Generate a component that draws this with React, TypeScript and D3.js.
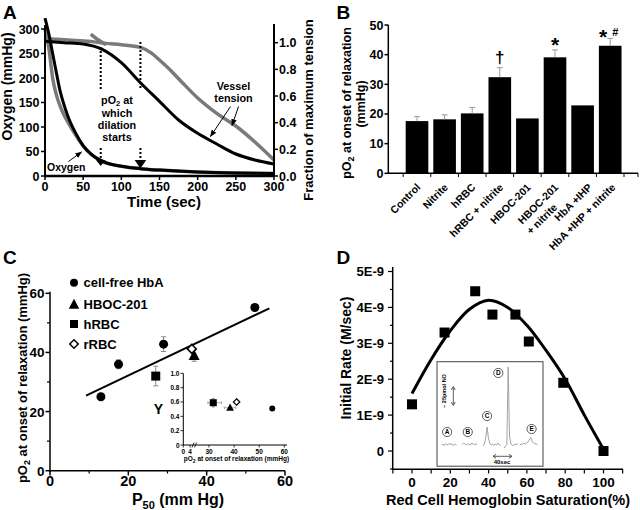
import React from 'react';
import * as d3 from 'd3';

const FONT = "'Liberation Sans', Arial, Helvetica, sans-serif";

// ---------- Panel A data ----------
const aTime = [0, 5, 10, 15, 20, 25, 30, 40, 50, 60, 70, 80, 100, 125, 150, 200, 250, 300];
const aOxyBlack = [322, 290, 250, 210, 172, 145, 122, 88, 62, 45, 34, 27, 20, 15, 12, 8, 6, 5];
const aOxyGray = [300, 262, 200, 165, 142, 124, 110, 84, 61, 45, 34, 27, 20, 15, 12, 8, 6, 5];
const aTensTime = [0, 25, 50, 75, 100, 125, 150, 175, 200, 225, 250, 275, 300];
const aTensBlack = [1.01, 1.0, 0.99, 0.95, 0.85, 0.7, 0.56, 0.42, 0.32, 0.24, 0.165, 0.12, 0.09];
const aTensGrayTime = [0, 30, 60, 80, 100, 125, 140, 150, 165, 180, 200, 225, 250, 275, 300];
const aTensGray = [1.03, 1.02, 1.01, 0.995, 0.985, 0.965, 0.92, 0.87, 0.79, 0.7, 0.585, 0.47, 0.375, 0.255, 0.12];
const aTensGray2Time = [60, 70, 80];
const aTensGray2 = [1.065, 1.02, 0.985];
const aDilationTimes = [73, 125];
const aLeftTicks = [0, 50, 100, 150, 200, 250, 300];
const aRightTicks = [0, 0.2, 0.4, 0.6, 0.8, 1.0];
const aXTicks = [0, 50, 100, 150, 200, 250, 300];

// ---------- Panel B data ----------
const bCategories = ['Control', 'Nitrite', 'hRBC', 'hRBC + nitrite', 'HBOC-201', 'HBOC-201 + nitrite', 'HbA +IHP', 'HbA +IHP + nitrite'];
const bLabelLines = [['Control'], ['Nitrite'], ['hRBC'], ['hRBC + nitrite'], ['HBOC-201'], ['HBOC-201', '+ nitrite'], ['HbA +IHP'], ['HbA +IHP + nitrite']];
const bValues = [17.6, 18.2, 20.2, 32.4, 18.5, 39.1, 22.9, 43.0];
const bErrors = [1.5, 1.5, 2.0, 3.2, 0, 2.5, 0, 2.5];
const bYTicks = [0, 10, 20, 30, 40, 50];

// ---------- Panel C data ----------
const cHbAX = [13, 17.5, 29, 52.3];
const cHbAY = [25, 36, 42.8, 55.2];
const cHbAErr = [0, 1.5, 2.5, 0];
const cHBOCX = [36.8];
const cHBOCY = [39];
const cHBOCErr = [2];
const cHRBCX = [27];
const cHRBCY = [32];
const cHRBCErr = [3.3];
const cRRBCX = [36.2];
const cRRBCY = [41.2];
const cFitX = [9.2, 56];
const cFitY = [25.4, 54.9];
const cTicks = [0, 20, 40, 60];
const cMinor = [10, 30, 50];
const cLegend = ['cell-free HbA', 'HBOC-201', 'hRBC', 'rRBC'];
// inset
const ciX = [31.7, 38.4, 41.0, 55.2];
const ciY = [0.59, 0.52, 0.6, 0.51];
const ciXErr = [3.3, 2.3, 0, 0];
const ciYErr = [0.06, 0, 0, 0];
const ciShapes = ['square', 'triangle', 'diamond', 'circle'];
const ciYTicks = [0, 0.2, 0.4, 0.6, 0.8, 1.0];
const ciXTicks = [0, 4, 30, 40, 50, 60];

// ---------- Panel D data ----------
const dSat = [0, 17, 33, 42, 54, 61, 79, 100];
const dRate = [1.3, 3.3, 4.45, 3.8, 3.8, 3.05, 1.9, 0];
const dFitX = [0, 10, 20, 30, 40, 50, 60, 70, 80, 90, 100];
const dFitY = [1.6, 2.55, 3.35, 3.95, 4.2, 4.0, 3.5, 2.8, 2.0, 1.0, 0.05];
const dYTicks = [0, 1, 2, 3, 4, 5];
const dYLabels = ['0', '1E-9', '2E-9', '3E-9', '4E-9', '5E-9'];
const dXTicks = [0, 20, 40, 60, 80, 100];
// inset traces (signal units), time in seconds
const dTraceA = [1, 2, 0.5, 2.5, 1, 1.5, 3, 1, 2, 0.5, 2, 1];
const dTraceB = [1.5, 3, 2, 1, 2.5, 1.5, 1, 3, 2, 1, 2.5, 1];
const dTraceC = [0, 2, 8, 19, 8, 3, 1, 2, 0.5, 2, 1, 3, 1, 0.5];
const dTraceD = [-2, 0, 1, 79, 10, 2, 1, 0.5, 2, 1, 3];
const dTraceE = [1, 2, 1.5, 3, 2, 3, 4, 6, 8.5, 5, 3, 2, 2.5, 1];
const dTraceStarts = [0, 46, 92, 139, 174];
const dTraceStep = 3;
const dPeakLabels = ['A', 'B', 'C', 'D', 'E'];
const dPeakLabelT = [12, 58, 101, 126, 200];
const dPeakLabelS = [14, 14, 30, 73, 17];

export default function App() {
  // ---------- scales A ----------
  const ax = d3.scaleLinear().domain([0, 300]).range([45, 274]);
  const ayL = d3.scaleLinear().domain([0, 300]).range([176, 29]);
  const ayR = d3.scaleLinear().domain([0, 1]).range([176, 42.7]);
  const mkLine = (xs: number[], ys: number[], sx: any, sy: any, curve: any = d3.curveMonotoneX) =>
    d3.line<number>().x((_, i) => sx(xs[i])).y((d) => sy(d)).curve(curve)(ys) || '';

  // ---------- scales B ----------
  const bx = d3.scaleBand<string>().domain(bCategories).range([403.2, 624]).paddingInner(0.18).paddingOuter(0.09);
  const by = d3.scaleLinear().domain([0, 50]).range([173.3, 25]);
  const bBoundaries = d3.range(bCategories.length + 1).map((i) => 403.2 + i * bx.step());

  // ---------- scales C ----------
  const cx = d3.scaleLinear().domain([0, 60]).range([50, 285]);
  const cy = d3.scaleLinear().domain([0, 60]).range([470.7, 293.3]);
  const cix = d3.scaleLinear().domain([0, 4, 30, 60]).range([183.3, 190, 209, 284.3]);
  const ciy = d3.scaleLinear().domain([0, 1]).range([445, 373.3]);

  // ---------- scales D ----------
  const dx = d3.scaleLinear().domain([0, 100]).range([412, 603.5]);
  const dy = d3.scaleLinear().domain([0, 5]).range([451, 271.5]);
  const dtx = d3.scaleLinear().domain([0, 215]).range([441.7, 538.3]);
  const dty = d3.scaleLinear().domain([0, 80]).range([446, 366]);
  const traces = [dTraceA, dTraceB, dTraceC, dTraceD, dTraceE];

  const bold = { fontFamily: FONT, fontWeight: 700 } as const;

  const triangle = (x: number, y: number, s: number) =>
    `M${x},${y - s * 0.6}L${x + s * 0.55},${y + s * 0.45}L${x - s * 0.55},${y + s * 0.45}Z`;
  const diamond = (x: number, y: number, s: number) =>
    `M${x},${y - s / 2}L${x + s / 2},${y}L${x},${y + s / 2}L${x - s / 2},${y}Z`;

  const errV = (x: number, y1: number, y2: number, w: number, key: string, col = '#888') => (
    <g key={key} stroke={col} strokeWidth={1}>
      <line x1={x} x2={x} y1={y1} y2={y2} />
      <line x1={x - w} x2={x + w} y1={y1} y2={y1} />
      <line x1={x - w} x2={x + w} y1={y2} y2={y2} />
    </g>
  );

  const bc = (i: number) => (bx(bCategories[i]) as number) + bx.bandwidth() / 2;

  return (
    <svg width={640} height={510} style={{ position: 'absolute', left: 0, top: 0, background: '#fff' }}>
      <defs>
        <marker id="ah" viewBox="0 0 10 10" refX="9" refY="5" markerWidth="7" markerHeight="7" orient="auto">
          <path d="M0,1L10,5L0,9Z" fill="#000" />
        </marker>
      </defs>
      <rect width={640} height={510} fill="#fff" />

      {/* ================= PANEL A ================= */}
      <text x={3} y={18.5} fontSize={19} {...bold}>A</text>
      <path d={mkLine(aTensGrayTime, aTensGray, ax, ayR)} fill="none" stroke="#7a7a7a" strokeWidth={3.5} />
      <path d={mkLine(aTensGray2Time, aTensGray2, ax, ayR)} fill="none" stroke="#7a7a7a" strokeWidth={3.5} />
      <path d={mkLine(aTime, aOxyGray, ax, ayL)} fill="none" stroke="#7a7a7a" strokeWidth={3.5} />
      <path d={mkLine(aTensTime, aTensBlack, ax, ayR)} fill="none" stroke="#000" strokeWidth={3} />
      <path d={mkLine(aTime, aOxyBlack, ax, ayL)} fill="none" stroke="#000" strokeWidth={3} />
      <line x1={45} x2={45} y1={176} y2={25} stroke="#000" strokeWidth={2} />
      <line x1={274} x2={274} y1={177} y2={24} stroke="#000" strokeWidth={2} />
      <line x1={44} x2={275} y1={176} y2={176} stroke="#000" strokeWidth={2.5} />
      {aLeftTicks.map((v) => (
        <g key={'al' + v}>
          <line x1={41} x2={45} y1={ayL(v)} y2={ayL(v)} stroke="#000" strokeWidth={1.5} />
          <text x={39.5} y={ayL(v) + 4.5} fontSize={12.5} textAnchor="end" {...bold}>{v}</text>
        </g>
      ))}
      {aRightTicks.map((v) => (
        <g key={'ar' + v}>
          <line x1={274} x2={278} y1={ayR(v)} y2={ayR(v)} stroke="#000" strokeWidth={1.5} />
          <text x={279} y={ayR(v) + 4.5} fontSize={12.5} {...bold}>{v.toFixed(1)}</text>
        </g>
      ))}
      {aXTicks.map((v) => (
        <g key={'ax' + v}>
          <line x1={ax(v)} x2={ax(v)} y1={176} y2={180} stroke="#000" strokeWidth={1.5} />
          <text x={ax(v)} y={190.5} fontSize={12.5} textAnchor="middle" {...bold}>{v}</text>
        </g>
      ))}
      <text x={164} y={207} fontSize={15} textAnchor="middle" {...bold}>Time (sec)</text>
      <text transform="translate(11.5,86.5) rotate(-90)" fontSize={14} textAnchor="middle" {...bold}>Oxygen (mmHg)</text>
      <text transform="translate(313,110) rotate(-90)" fontSize={13} textAnchor="middle" {...bold}>Fraction of maximum tension</text>
      {aDilationTimes.map((t, i) => (
        <g key={'dil' + t}>
          <line x1={ax(t)} x2={ax(t)} y1={i === 0 ? 47 : 42} y2={90} stroke="#000" strokeWidth={2} strokeDasharray="2,2" />
          <line x1={ax(t)} x2={ax(t)} y1={148} y2={160} stroke="#000" strokeWidth={2} strokeDasharray="2,2" />
          <path d={`M${ax(t) - (i === 0 ? 4.7 : 5.8)},160L${ax(t) + (i === 0 ? 4.7 : 5.8)},160L${ax(t)},${i === 0 ? 166 : 168.5}Z`} fill="#000" />
        </g>
      ))}
      <g fontSize={10.8} textAnchor="middle" {...bold}>
        <text x={117} y={103.5}>pO<tspan dy={2.5} fontSize={7.5}>2</tspan><tspan dy={-2.5}> at</tspan></text>
        <text x={117} y={116.5}>which</text>
        <text x={117} y={129}>dilation</text>
        <text x={117} y={140.5}>starts</text>
        <text x={233.5} y={89.5}>Vessel</text>
        <text x={233.5} y={102}>tension</text>
      </g>
      <text x={47} y={170.5} fontSize={10.5} {...bold}>Oxygen</text>
      <line x1={68.5} y1={161.5} x2={81.5} y2={152} stroke="#000" strokeWidth={1} markerEnd="url(#ah)" />
      <line x1={230.5} y1={106.5} x2={210.5} y2={136.5} stroke="#000" strokeWidth={1} markerEnd="url(#ah)" />
      <line x1={238.5} y1={106.5} x2={232} y2={125.5} stroke="#000" strokeWidth={1} markerEnd="url(#ah)" />

      {/* ================= PANEL B ================= */}
      <text x={336.5} y={18.5} fontSize={19} {...bold}>B</text>
      {bCategories.map((c, i) => (
        <rect key={'bar' + c} x={bx(c)} y={by(bValues[i])} width={bx.bandwidth()} height={by(0) - by(bValues[i])} fill="#000" />
      ))}
      {bCategories.map((c, i) =>
        bErrors[i] > 0
          ? (
            <g key={'be' + c} stroke="#999" strokeWidth={1}>
              <line x1={bc(i)} x2={bc(i)} y1={by(bValues[i])} y2={by(bValues[i] + bErrors[i])} />
              <line x1={bc(i) - 3} x2={bc(i) + 3} y1={by(bValues[i] + bErrors[i])} y2={by(bValues[i] + bErrors[i])} />
            </g>
          )
          : null
      )}
      <line x1={388.3} x2={388.3} y1={174} y2={25} stroke="#000" strokeWidth={1.5} />
      <line x1={388.3} x2={638} y1={173.3} y2={173.3} stroke="#000" strokeWidth={1.5} />
      {bBoundaries.map((x, i) => (
        <line key={'bt' + i} x1={x} x2={x} y1={173.3} y2={177} stroke="#000" strokeWidth={1} />
      ))}
      <line x1={638} x2={638} y1={173.3} y2={177} stroke="#000" strokeWidth={1} />
      {bYTicks.map((v) => (
        <g key={'by' + v}>
          <line x1={384.5} x2={388.3} y1={by(v)} y2={by(v)} stroke="#000" strokeWidth={1.5} />
          <text x={383.5} y={by(v) + 4.5} fontSize={12.5} textAnchor="end" {...bold}>{v}</text>
        </g>
      ))}
      {bLabelLines.map((lines, i) =>
        lines.map((ln, j) => {
          const off = i === 6 ? 10 : i === 7 ? 6 : 4;
          return (
            <text key={'bl' + i + j} transform={`translate(${bc(i) + off - j},${188 + j * 20}) rotate(-45)`} fontSize={10.5} textAnchor="end" {...bold}>
              {ln}
            </text>
          );
        })
      )}
      <g textAnchor="middle" {...bold}>
        <text x={bc(3)} y={63} fontSize={17}>†</text>
        <text x={bc(5)} y={52} fontSize={21}>*</text>
        <text x={bc(7) - 7} y={44} fontSize={21}>*</text>
        <text x={bc(7) + 5} y={36} fontSize={11}>#</text>
      </g>
      <g {...bold} fontSize={12.5} textAnchor="middle">
        <text transform="translate(351,103) rotate(-90)">pO<tspan dy={3} fontSize={9}>2</tspan><tspan dy={-3}> at onset of relaxation</tspan></text>
        <text transform="translate(364.5,104) rotate(-90)">(mmHg)</text>
      </g>

      {/* ================= PANEL C ================= */}
      <text x={3} y={263.5} fontSize={19} {...bold}>C</text>
      <line x1={50} x2={50} y1={471.5} y2={291.7} stroke="#000" strokeWidth={1.5} />
      <line x1={49} x2={285} y1={470.7} y2={470.7} stroke="#000" strokeWidth={1.5} />
      {cTicks.map((v) => (
        <g key={'ct' + v}>
          <line x1={45.5} x2={50} y1={cy(v)} y2={cy(v)} stroke="#000" strokeWidth={1.5} />
          <text x={44.5} y={cy(v) + 5} fontSize={13.5} textAnchor="end" {...bold}>{v}</text>
          <line x1={cx(v)} x2={cx(v)} y1={470.7} y2={475.5} stroke="#000" strokeWidth={1.5} />
          <text x={cx(v)} y={486} fontSize={14.5} textAnchor="middle" {...bold}>{v}</text>
        </g>
      ))}
      {cMinor.map((v) => (
        <g key={'cm' + v}>
          <line x1={47} x2={50} y1={cy(v)} y2={cy(v)} stroke="#000" strokeWidth={1.2} />
          <line x1={cx(v)} x2={cx(v)} y1={470.7} y2={473.5} stroke="#000" strokeWidth={1.2} />
        </g>
      ))}
      <text x={178} y={505} fontSize={16} textAnchor="middle" {...bold}>
        P<tspan dy={3.5} fontSize={11}>50</tspan><tspan dy={-3.5}> (mm Hg)</tspan>
      </text>
      <text transform="translate(26.5,378) rotate(-90)" fontSize={13} textAnchor="middle" {...bold}>
        pO<tspan dy={3} fontSize={9}>2</tspan><tspan dy={-3}> at onset of relaxation (mmHg)</tspan>
      </text>
      <path d={mkLine(cFitX, cFitY, cx, cy, d3.curveLinear)} stroke="#000" strokeWidth={2} fill="none" />
      {cHbAX.map((x, i) => (cHbAErr[i] > 0 ? errV(cx(x), cy(cHbAY[i] - cHbAErr[i]), cy(cHbAY[i] + cHbAErr[i]), 2.5, 'ce' + i) : null))}
      {cHBOCX.map((x, i) => errV(cx(x), cy(cHBOCY[i] - cHBOCErr[i]), cy(cHBOCY[i] + cHBOCErr[i]), 2.5, 'cbe' + i))}
      {cHRBCX.map((x, i) => errV(cx(x), cy(cHRBCY[i] - cHRBCErr[i]), cy(cHRBCY[i] + cHRBCErr[i]), 2.5, 'cre' + i))}
      {cHbAX.map((x, i) => <circle key={'cp' + i} cx={cx(x)} cy={cy(cHbAY[i])} r={4.5} fill="#000" />)}
      {cHBOCX.map((x, i) => <path key={'ctp' + i} d={triangle(cx(x), cy(cHBOCY[i]), 10)} fill="#000" />)}
      {cHRBCX.map((x, i) => <rect key={'csp' + i} x={cx(x) - 4.5} y={cy(cHRBCY[i]) - 4.5} width={9} height={9} fill="#000" />)}
      {cRRBCX.map((x, i) => <path key={'cdp' + i} d={diamond(cx(x), cy(cRRBCY[i]), 9)} fill="#fff" stroke="#000" strokeWidth={1.5} />)}
      <circle cx={74} cy={282.7} r={4} fill="#000" />
      <path d={triangle(74, 304.5, 9.5)} fill="#000" />
      <rect x={70} y={320} width={8} height={8} fill="#000" />
      <path d={diamond(74, 344, 8.5)} fill="#fff" stroke="#000" strokeWidth={1.5} />
      {cLegend.map((t, i) => (
        <text key={'lg' + t} x={83.5} y={[287.3, 309, 328.7, 348.7][i]} fontSize={13} {...bold}>{t}</text>
      ))}
      <line x1={183.3} x2={183.3} y1={445} y2={373.3} stroke="#000" strokeWidth={1} />
      <line x1={183.3} x2={287} y1={445} y2={445} stroke="#000" strokeWidth={1} />
      {ciYTicks.map((v) => (
        <g key={'ciy' + v}>
          <line x1={180.5} x2={183.3} y1={ciy(v)} y2={ciy(v)} stroke="#000" strokeWidth={0.8} />
          <text x={179.5} y={ciy(v) + 2.5} fontSize={6.5} textAnchor="end" {...bold}>{v === 0 ? '0' : v.toFixed(1)}</text>
        </g>
      ))}
      {ciXTicks.map((v) => (
        <g key={'cix' + v}>
          <line x1={cix(v)} x2={cix(v)} y1={445} y2={447.5} stroke="#000" strokeWidth={0.8} />
          <text x={cix(v)} y={454} fontSize={6.5} textAnchor="middle" {...bold}>{v}</text>
        </g>
      ))}
      <path d="M192,447.5L194,442.5M194.5,447.5L196.5,442.5" stroke="#000" strokeWidth={0.8} />
      <text x={236.5} y={461} fontSize={6.5} textAnchor="middle" {...bold}>
        pO<tspan dy={1.5} fontSize={5}>2</tspan><tspan dy={-1.5}> at onset of relaxation (mmHg)</tspan>
      </text>
      <text x={158.3} y={413.5} fontSize={14} textAnchor="middle" {...bold}>Y</text>
      {ciX.map((x, i) => (
        <g key={'cip' + i}>
          {ciXErr[i] > 0 ? (
            <g stroke="#999" strokeWidth={0.8}>
              <line x1={cix(x - ciXErr[i])} x2={cix(x + ciXErr[i])} y1={ciy(ciY[i])} y2={ciy(ciY[i])} />
              <line x1={cix(x - ciXErr[i])} x2={cix(x - ciXErr[i])} y1={ciy(ciY[i]) - 1.5} y2={ciy(ciY[i]) + 1.5} />
              <line x1={cix(x + ciXErr[i])} x2={cix(x + ciXErr[i])} y1={ciy(ciY[i]) - 1.5} y2={ciy(ciY[i]) + 1.5} />
            </g>
          ) : null}
          {ciYErr[i] > 0 ? errV(cix(x), ciy(ciY[i] - ciYErr[i]), ciy(ciY[i] + ciYErr[i]), 1.5, 'ciye' + i, '#999') : null}
          {ciShapes[i] === 'square' ? <rect x={cix(x) - 3.5} y={ciy(ciY[i]) - 3.5} width={7} height={7} fill="#000" /> : null}
          {ciShapes[i] === 'triangle' ? <path d={triangle(cix(x), ciy(ciY[i]), 7)} fill="#000" /> : null}
          {ciShapes[i] === 'diamond' ? <path d={diamond(cix(x), ciy(ciY[i]), 6.5)} fill="#fff" stroke="#000" strokeWidth={1.2} /> : null}
          {ciShapes[i] === 'circle' ? <circle cx={cix(x)} cy={ciy(ciY[i])} r={3} fill="#000" /> : null}
        </g>
      ))}

      {/* ================= PANEL D ================= */}
      <text x={336.5} y={263.5} fontSize={19} {...bold}>D</text>
      <line x1={392.7} x2={392.7} y1={470} y2={267} stroke="#000" strokeWidth={1.5} />
      <line x1={392} x2={623} y1={469.3} y2={469.3} stroke="#000" strokeWidth={1.5} />
      {d3.range(-0.5, 5.01, 0.5).map((v) => (
        <line key={'dyt' + v} x1={Number.isInteger(v) ? 388 : 390} x2={392.7} y1={dy(v)} y2={dy(v)} stroke="#000" strokeWidth={1.2} />
      ))}
      {dYTicks.map((v, i) => (
        <text key={'dyl' + v} x={384} y={dy(v) + 4.5} fontSize={13} textAnchor="end" {...bold}>{dYLabels[i]}</text>
      ))}
      {d3.range(-10, 111, 10).map((v) => (
        <line key={'dxt' + v} x1={dx(v)} x2={dx(v)} y1={469.3} y2={473.5} stroke="#000" strokeWidth={1.2} />
      ))}
      {dXTicks.map((v) => (
        <text key={'dxl' + v} x={dx(v)} y={486.5} fontSize={13.5} textAnchor="middle" {...bold}>{v}</text>
      ))}
      <text x={508} y={505} fontSize={14.5} textAnchor="middle" {...bold}>Red Cell Hemoglobin Saturation(%)</text>
      <text transform="translate(351,358) rotate(-90)" fontSize={14} textAnchor="middle" {...bold}>Initial Rate (M/sec)</text>
      <rect x={437} y={361.7} width={106} height={104.5} fill="#fff" stroke="#444" strokeWidth={1} />
      {traces.map((tr, k) => (
        <path key={'tr' + k} d={d3.line<number>().x((_, i) => dtx(dTraceStarts[k] + i * dTraceStep)).y((d) => dty(d))(tr) || ''} fill="none" stroke="#999" strokeWidth={0.9} />
      ))}
      {dPeakLabels.map((l, i) => (
        <g key={'pl' + l}>
          <circle cx={dtx(dPeakLabelT[i])} cy={dty(dPeakLabelS[i])} r={4.6} fill="#fff" stroke="#333" strokeWidth={0.8} />
          <text x={dtx(dPeakLabelT[i])} y={dty(dPeakLabelS[i]) + 2.4} fontSize={6.5} textAnchor="middle" {...bold}>{l}</text>
        </g>
      ))}
      <line x1={453.3} x2={453.3} y1={387.5} y2={404.5} stroke="#333" strokeWidth={0.8} />
      <path d="M451.3,390L453.3,386.5L455.3,390M451.3,402L453.3,405.5L455.3,402" fill="none" stroke="#333" strokeWidth={0.8} />
      <text transform="translate(446,391) rotate(-90)" fontSize={5.5} textAnchor="middle" {...bold}>~ 25pmol NO</text>
      <line x1={493.5} x2={511.5} y1={456.3} y2={456.3} stroke="#333" strokeWidth={0.8} />
      <path d="M496,454.3L493,456.3L496,458.3M509,454.3L512,456.3L509,458.3" fill="none" stroke="#333" strokeWidth={0.8} />
      <text x={502} y={464} fontSize={6} textAnchor="middle" {...bold}>40sec</text>
      <path d={mkLine(dFitX, dFitY, dx, dy, d3.curveCatmullRom)} fill="none" stroke="#000" strokeWidth={3} />
      {dSat.map((s, i) => (
        <rect key={'dp' + i} x={dx(s) - 5} y={dy(dRate[i]) - 5} width={10} height={10} fill="#000" />
      ))}
    </svg>
  );
}
